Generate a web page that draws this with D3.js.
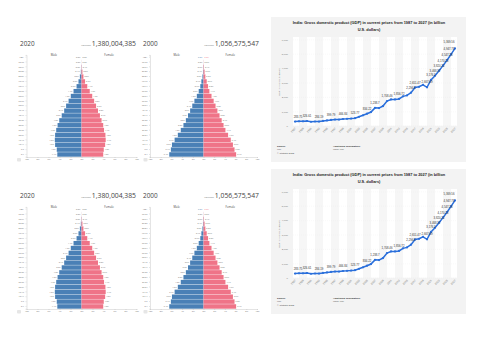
<!DOCTYPE html>
<html>
<head>
<meta charset="utf-8">
<script src="https://cdn.jsdelivr.net/npm/d3@7"></script>
<style>
  body { margin: 0; background: #fff; }
  svg { display: block; }
</style>
</head>
<body>
<svg width="500" height="353"></svg>
<script>
// ---- data ----
const ageGroups = ['0-4', '5-9', '10-14', '15-19', '20-24', '25-29', '30-34', '35-39', '40-44',
  '45-49', '50-54', '55-59', '60-64', '65-69', '70-74', '75-79', '80-84', '85-89', '90-94', '95-99', '100+'];

// percent of total population
const male2020 = [4.4, 4.5, 4.8, 4.85, 4.8, 4.6, 4.35, 4.05, 3.6, 3.15, 2.8, 2.35, 1.95, 1.45, 0.9, 0.55, 0.3, 0.12, 0.04, 0.01, 0.0];
const female2020 = [3.95, 4.05, 4.3, 4.4, 4.35, 4.1, 3.95, 3.65, 3.35, 3.0, 2.65, 2.3, 1.95, 1.5, 1.05, 0.65, 0.35, 0.17, 0.05, 0.01, 0.0];
const male2000 = [6.4, 6.1, 5.9, 5.4, 4.8, 4.25, 3.75, 3.3, 2.9, 2.5, 2.1, 1.7, 1.25, 0.9, 0.6, 0.4, 0.2, 0.1, 0.04, 0.01, 0.0];
const female2000 = [6.1, 5.8, 5.5, 5.1, 4.6, 4.1, 3.75, 3.4, 3.0, 2.6, 2.25, 1.9, 1.5, 1.1, 0.85, 0.6, 0.35, 0.2, 0.08, 0.02, 0.0];
const pyramidTicks = [-10, -8, -6, -4, -2, 0, 2, 4, 6, 8, 10];

const gdpYears = d3.range(1987, 2028);
const gdpValues = [283.75, 301.7, 301.23, 326.61, 274.84, 293.26, 284.19, 333.01, 366.6, 399.79,
  423.16, 428.77, 466.84, 476.64, 493.93, 523.77, 618.37, 721.59, 834.22, 949.12,
  1238.7, 1224.1, 1365.37, 1708.46, 1823.05, 1827.64, 1856.72, 2039.13, 2103.59, 2294.8,
  2651.47, 2702.93, 2835.61, 2667.69, 3176.3, 3468.57, 3820.22, 4170.22, 4547.28, 4947.78, 5369.56];
const gdpLabelYears = [1987, 1990, 1993, 1996, 1999, 2002, 2005, 2007, 2010, 2013, 2016, 2017,
  2020, 2021, 2022, 2023, 2024, 2025, 2026, 2027];
const gdpTicks = [0, 1000, 2000, 3000, 4000, 5000, 6000];
const gdpYearTicks = d3.range(1987, 2028, 2);

const svg = d3.select('svg');
const maleColor = '#4a80b6';
const femaleColor = '#ef7488';

function drawPyramid(o) {
  const g = svg.append('g').attr('transform', `translate(0,${o.dy})`);
  const x = d3.scaleLinear().domain([-10, 10]).range([o.x0, o.x1]);
  const y = d3.scaleBand()
      .domain(ageGroups.slice().reverse())
      .range([54.9, 156.7])
      .paddingInner(0.08);

  g.append('text').attr('x', o.titleX).attr('y', 45.5)
      .style('font', '6.4px "Open Sans"').style('fill', '#444').text(o.year);
  const pop = g.append('text').attr('x', o.popX).attr('y', 45.5).attr('text-anchor', 'end')
      .style('font', '6.8px "Open Sans"').style('fill', '#444').text(o.population);
  const popW = pop.node().getComputedTextLength();
  g.append('text').attr('x', o.popX - popW - 1).attr('y', 45.5).attr('text-anchor', 'end')
      .style('font', '1.9px "Open Sans"').style('fill', '#777').text('Population');

  const rows = ageGroups.map((a, i) => ({age: a, m: o.male[i], f: o.female[i]}));

  g.selectAll('rect.m').data(rows).enter().append('rect')
      .attr('x', d => x(-d.m)).attr('y', d => y(d.age))
      .attr('width', d => x(0) - x(-d.m)).attr('height', y.bandwidth())
      .style('fill', maleColor);
  g.selectAll('rect.f').data(rows).enter().append('rect')
      .attr('x', x(0)).attr('y', d => y(d.age))
      .attr('width', d => x(d.f) - x(0)).attr('height', y.bandwidth())
      .style('fill', femaleColor);

  const fmt = v => d3.format('.1f')(v) + '%';
  g.selectAll('text.ml').data(rows).enter().append('text')
      .attr('x', d => x(-d.m) - 1).attr('y', d => y(d.age) + y.bandwidth() / 2 + 0.7)
      .attr('text-anchor', 'end').style('font', '2px "Open Sans"')
      .style('fill', (d, i) => o.highlight && i === rows.length - 1 ? maleColor : '#666')
      .text(d => fmt(d.m));
  g.selectAll('text.fl').data(rows).enter().append('text')
      .attr('x', d => x(d.f) + 1).attr('y', d => y(d.age) + y.bandwidth() / 2 + 0.7)
      .style('font', '2px "Open Sans"')
      .style('fill', (d, i) => o.highlight && i === rows.length - 1 ? femaleColor : '#666')
      .text(d => fmt(d.f));

  g.append('text').attr('x', x(-5)).attr('y', 56).attr('text-anchor', 'middle')
      .style('font', '2.8px "Open Sans"').style('fill', '#444').text('Male');
  g.append('text').attr('x', x(5)).attr('y', 56).attr('text-anchor', 'middle')
      .style('font', '2.8px "Open Sans"').style('fill', '#444').text('Female');

  const yAxis = g.append('g').attr('transform', `translate(${x(-10)},0)`)
      .call(d3.axisLeft(y).tickSize(1).tickPadding(1.5));
  const xAxis = g.append('g').attr('transform', 'translate(0,157)')
      .call(d3.axisBottom(x).tickValues(pyramidTicks).tickSize(1).tickPadding(1)
          .tickFormat(v => Math.abs(v) + '%'));
  [yAxis, xAxis].forEach(a => {
    a.selectAll('text').style('font', '2.1px "Open Sans"').style('fill', '#666');
    a.selectAll('line,path').style('stroke', '#bbb').style('stroke-width', 0.4);
  });

  g.append('rect').attr('x', o.iconX).attr('y', 158).attr('width', 4).attr('height', 3.5)
      .attr('rx', 0.8).style('fill', '#e6e6e6');
}

function drawGdp(dy) {
  const g = svg.append('g').attr('transform', `translate(0,${dy})`);
  g.append('rect').attr('x', 271).attr('y', 17).attr('width', 195).attr('height', 145)
      .style('fill', '#f3f3f3');

  const x = d3.scaleLinear().domain([1987, 2027]).range([295, 455]);
  const y = d3.scaleLinear().domain([0, 6000]).range([125.7, 39.3]);

  g.append('text').attr('x', 369).attr('y', 24).attr('text-anchor', 'middle')
      .style('font', 'bold 3.9px "Liberation Sans"').style('fill', '#222')
      .text('India: Gross domestic product (GDP) in current prices from 1987 to 2027 (in billion');
  g.append('text').attr('x', 369).attr('y', 30.5).attr('text-anchor', 'middle')
      .style('font', 'bold 3.9px "Liberation Sans"').style('fill', '#222')
      .text('U.S. dollars)');

  g.selectAll('rect.band').data(gdpYearTicks).enter().append('rect')
      .attr('x', d => x(Math.max(d - 1, 1986.5)))
      .attr('width', d => x(Math.min(d + 1, 2027.5)) - x(Math.max(d - 1, 1986.5)))
      .attr('y', 37).attr('height', y(0) - 37)
      .style('fill', (d, i) => i % 2 ? '#f6f6f6' : '#ffffff');

  const yAxis = g.append('g').attr('transform', `translate(${x(1986.5)},0)`)
      .call(d3.axisLeft(y).tickValues(gdpTicks).tickSize(-(x(2027.5) - x(1986.5)))
          .tickPadding(5).tickFormat(d3.format(',')));
  yAxis.select('.domain').remove();
  yAxis.selectAll('line').style('stroke', '#ececec').style('stroke-width', 0.3)
      .style('stroke-dasharray', '1,1');
  yAxis.selectAll('text').style('font', '2.5px "Liberation Sans"').style('fill', '#777');

  g.append('text').attr('transform', 'translate(280,82) rotate(-90)').attr('text-anchor', 'middle')
      .style('font', '2.4px "Liberation Sans"').style('fill', '#777')
      .text('GDP in billion U.S. dollars');

  g.selectAll('text.yr').data(gdpYearTicks).enter().append('text')
      .attr('transform', d => `translate(${x(d) + 1},${y(0) + 3}) rotate(-45)`)
      .attr('text-anchor', 'end').style('font', '2.7px "Liberation Sans"').style('fill', '#777')
      .text(d => d);

  const pts = gdpYears.map((yr, i) => ({yr, v: gdpValues[i]}));
  g.append('path').datum(pts)
      .attr('d', d3.line().x(d => x(d.yr)).y(d => y(d.v)))
      .style('fill', 'none').style('stroke', '#2a6fdb').style('stroke-width', 1.5);
  g.selectAll('circle').data(pts).enter().append('circle')
      .attr('cx', d => x(d.yr)).attr('cy', d => y(d.v)).attr('r', 1.1)
      .style('fill', '#2a6fdb');

  const fmt = d3.format(',');
  g.selectAll('text.lbl').data(pts.filter(d => gdpLabelYears.includes(d.yr))).enter().append('text')
      .attr('x', d => Math.min(Math.max(x(d.yr), 298), 449))
      .attr('y', d => y(d.v) - (d.yr === 2027 ? 5.5 : 4))
      .attr('text-anchor', 'middle').style('font', '2.8px "Liberation Sans"').style('fill', '#333')
      .text(d => fmt(d.v));

  const src = g.append('g').style('font', '2.5px "Liberation Sans"').style('fill', '#555');
  src.append('text').attr('x', 277).attr('y', 146.5).style('font-weight', 'bold').style('fill', '#333').text('Source');
  src.append('text').attr('x', 277).attr('y', 150).text('IMF');
  src.append('text').attr('x', 277).attr('y', 153.5).text('© Statista 2022');
  src.append('text').attr('x', 333).attr('y', 146.5).style('font-weight', 'bold').style('fill', '#333').text('Additional Information:');
  src.append('text').attr('x', 333).attr('y', 150).text('India; IMF');
}

[0, 152].forEach(dy => {
  drawPyramid({dy, x0: 26.5, x1: 136.5, titleX: 20, popX: 136, iconX: 17,
    year: '2020', population: '1,380,004,385', male: male2020, female: female2020});
  drawPyramid({dy, x0: 150, x1: 257, titleX: 143, popX: 259, iconX: 143.5, highlight: true,
    year: '2000', population: '1,056,575,547', male: male2000, female: female2000});
  drawGdp(dy);
});
</script>
</body>
</html>
